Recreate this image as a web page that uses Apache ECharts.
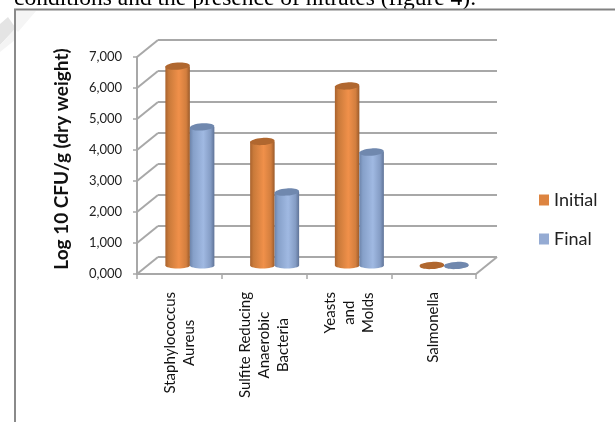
<!DOCTYPE html>
<html>
<head>
<meta charset="utf-8">
<script src="https://cdn.jsdelivr.net/npm/echarts@6/dist/echarts.min.js"></script>
<style>html,body{margin:0;padding:0;background:#fff}#c{width:615px;height:422px}</style>
</head>
<body>
<div id="c"></div>
<script>
const categories = ['Staphylococcus\nAureus', 'Sulfite Reducing\nAnaerobic\nBacteria', 'Yeasts\nand\nMolds', 'Salmonella'];
const initialValues = [6.43, 4.0, 5.79, 0];
const finalValues = [4.47, 2.37, 3.66, 0];
const yTicks = [0, 1, 2, 3, 4, 5, 6, 7];

const GREY = '#a8a8a8';
const DEPTH = [21, -17];           // front plane to back wall
const MID = [DEPTH[0] / 2, DEPTH[1] / 2];   // cylinders stand half way back
const BAR_W = 24.5;
const ELLIPSE_RY = 3.6;

// One cylinder: a shaded body capped by a darker tilted ellipse.
function cylinder(side, stops, capColor) {
  return function (params, api) {
    const top = api.coord([api.value(0), api.value(1)]);
    const base = api.coord([api.value(0), 0]);
    const cx = top[0] + MID[0] + side * BAR_W / 2;
    const yTop = top[1] + MID[1];
    const yBase = base[1] + MID[1];
    const grad = new echarts.graphic.LinearGradient(0, 0, 1, 0, stops);
    return {
      type: 'group',
      children: [
        { type: 'ellipse', shape: { cx, cy: yBase, rx: BAR_W / 2, ry: ELLIPSE_RY - 0.6 }, style: { fill: grad } },
        { type: 'rect', shape: { x: cx - BAR_W / 2, y: yTop, width: BAR_W, height: yBase - yTop }, style: { fill: grad } },
        {
          type: 'ellipse',
          shape: { cx, cy: yTop, rx: BAR_W / 2, ry: ELLIPSE_RY },
          rotation: 0.07, originX: cx, originY: yTop,
          style: { fill: capColor }
        }
      ]
    };
  };
}

const chart = echarts.init(document.getElementById('c'), null, { renderer: 'canvas' });
chart.setOption({
  animation: false,
  backgroundColor: '#fff',
  textStyle: { fontFamily: 'Lato' },
  grid: [
    { left: 137, top: 57, width: 339, height: 217 },
    { left: 158, top: 40, width: 339, height: 217 }
  ],
  xAxis: [
    {
      gridIndex: 0, type: 'category', data: categories,
      axisLine: { lineStyle: { color: GREY, width: 2 } },
      axisTick: { show: true, length: 5, alignWithLabel: false, lineStyle: { color: GREY, width: 1.5 } },
      axisLabel: {
        interval: 0, rotate: 90, margin: 18, color: '#111',
        formatter: s => s.split('\n').map(l => '{a|' + l + '}').join('\n'),
        rich: { a: { fontFamily: 'Lato', fontSize: 15, lineHeight: 19, align: 'center', color: '#111' } }
      }
    },
    { gridIndex: 1, type: 'category', data: categories, show: false }
  ],
  yAxis: [
    {
      gridIndex: 0, type: 'value', min: 0, max: 7, interval: 1,
      name: 'Log 10 CFU/g (dry weight)', nameLocation: 'middle', nameGap: 66,
      nameTextStyle: { fontFamily: 'Lato', fontWeight: 'bold', fontSize: 19, color: '#111', padding: [0, 0, 0, 13] },
      axisLine: { show: true, lineStyle: { color: GREY, width: 2 } },
      axisTick: { show: true, length: 4, lineStyle: { color: GREY, width: 1.5 } },
      axisLabel: { margin: 15, fontFamily: 'Lato', fontSize: 13, color: '#222', formatter: v => v.toFixed(3).replace('.', ',') },
      splitLine: { show: false }
    },
    {
      gridIndex: 1, type: 'value', min: 0, max: 7, interval: 1,
      axisLine: { show: false }, axisTick: { show: false }, axisLabel: { show: false },
      splitLine: { show: true, lineStyle: { color: GREY, width: 2 } }
    }
  ],
  legend: {
    data: ['Initial', 'Final'],
    orient: 'vertical', left: 534, top: 186,
    icon: 'rect', itemWidth: 10, itemHeight: 11, itemGap: 21,
    textStyle: { fontFamily: 'Lato', fontSize: 18, color: '#222' },
    selectedMode: false
  },
  series: [
    {
      // slanted wall and floor edges joining the front plane to the back wall
      type: 'custom', xAxisIndex: 0, yAxisIndex: 0, silent: true, clip: false, z: 1,
      data: yTicks.map(v => [0, v]),
      renderItem(params, api) {
        const p = api.coord([0, api.value(1)]);
        const x0 = params.coordSys.x;
        const segs = [{ type: 'line', shape: { x1: x0, y1: p[1], x2: x0 + DEPTH[0], y2: p[1] + DEPTH[1] }, style: { stroke: GREY, lineWidth: 2 } }];
        if (api.value(1) === 0) {
          const xr = x0 + params.coordSys.width;
          segs.push({ type: 'line', shape: { x1: xr, y1: p[1], x2: xr + DEPTH[0], y2: p[1] + DEPTH[1] }, style: { stroke: GREY, lineWidth: 2 } });
        }
        return { type: 'group', children: segs };
      }
    },
    {
      name: 'Initial', type: 'custom', xAxisIndex: 0, yAxisIndex: 0, clip: false, z: 3,
      itemStyle: { color: '#dd8440' },
      encode: { x: 0, y: 1 },
      data: initialValues.map((v, i) => [i, v]),
      renderItem: cylinder(-1, [
        { offset: 0, color: '#a9622d' }, { offset: 0.14, color: '#c97a3a' },
        { offset: 0.55, color: '#f0904a' }, { offset: 0.85, color: '#d27e3e' }, { offset: 1, color: '#9a5a2a' }
      ], '#b0672f')
    },
    {
      name: 'Final', type: 'custom', xAxisIndex: 0, yAxisIndex: 0, clip: false, z: 3,
      itemStyle: { color: '#95abd3' },
      encode: { x: 0, y: 1 },
      data: finalValues.map((v, i) => [i, v]),
      renderItem: cylinder(1, [
        { offset: 0, color: '#6d84aa' }, { offset: 0.14, color: '#86a0c9' },
        { offset: 0.55, color: '#a0b9e2' }, { offset: 0.85, color: '#849cc4' }, { offset: 1, color: '#5f7397' }
      ], '#7088ae')
    }
  ],
  graphic: [
    { type: 'polygon', silent: true, z: -1, shape: { points: [[0, 24], [8, 17], [15, 27], [15, 29], [0, 45]] }, style: { fill: '#e4e4e4' } },
    { type: 'polygon', silent: true, z: -1, shape: { points: [[0, 45], [15, 29], [15, 40], [0, 52]] }, style: { fill: '#f4f4f4' } },
    { type: 'polygon', silent: true, z: -1, shape: { points: [[16, 11], [36, 11], [18, 32], [16, 30]] }, style: { fill: '#f5f5f5' } },
    { type: 'text', silent: true, left: 14, top: -13, style: { text: 'conditions and the presence of nitrates (figure 4).', font: '23.5px "Liberation Serif"', fill: '#000' } },
    { type: 'line', silent: true, shape: { x1: 14, y1: 9.5, x2: 615, y2: 9.5 }, style: { stroke: '#828282', lineWidth: 2 } },
    { type: 'line', silent: true, shape: { x1: 15, y1: 9, x2: 15, y2: 422 }, style: { stroke: '#8a8a8a', lineWidth: 2 } }
  ]
});
</script>
</body>
</html>
